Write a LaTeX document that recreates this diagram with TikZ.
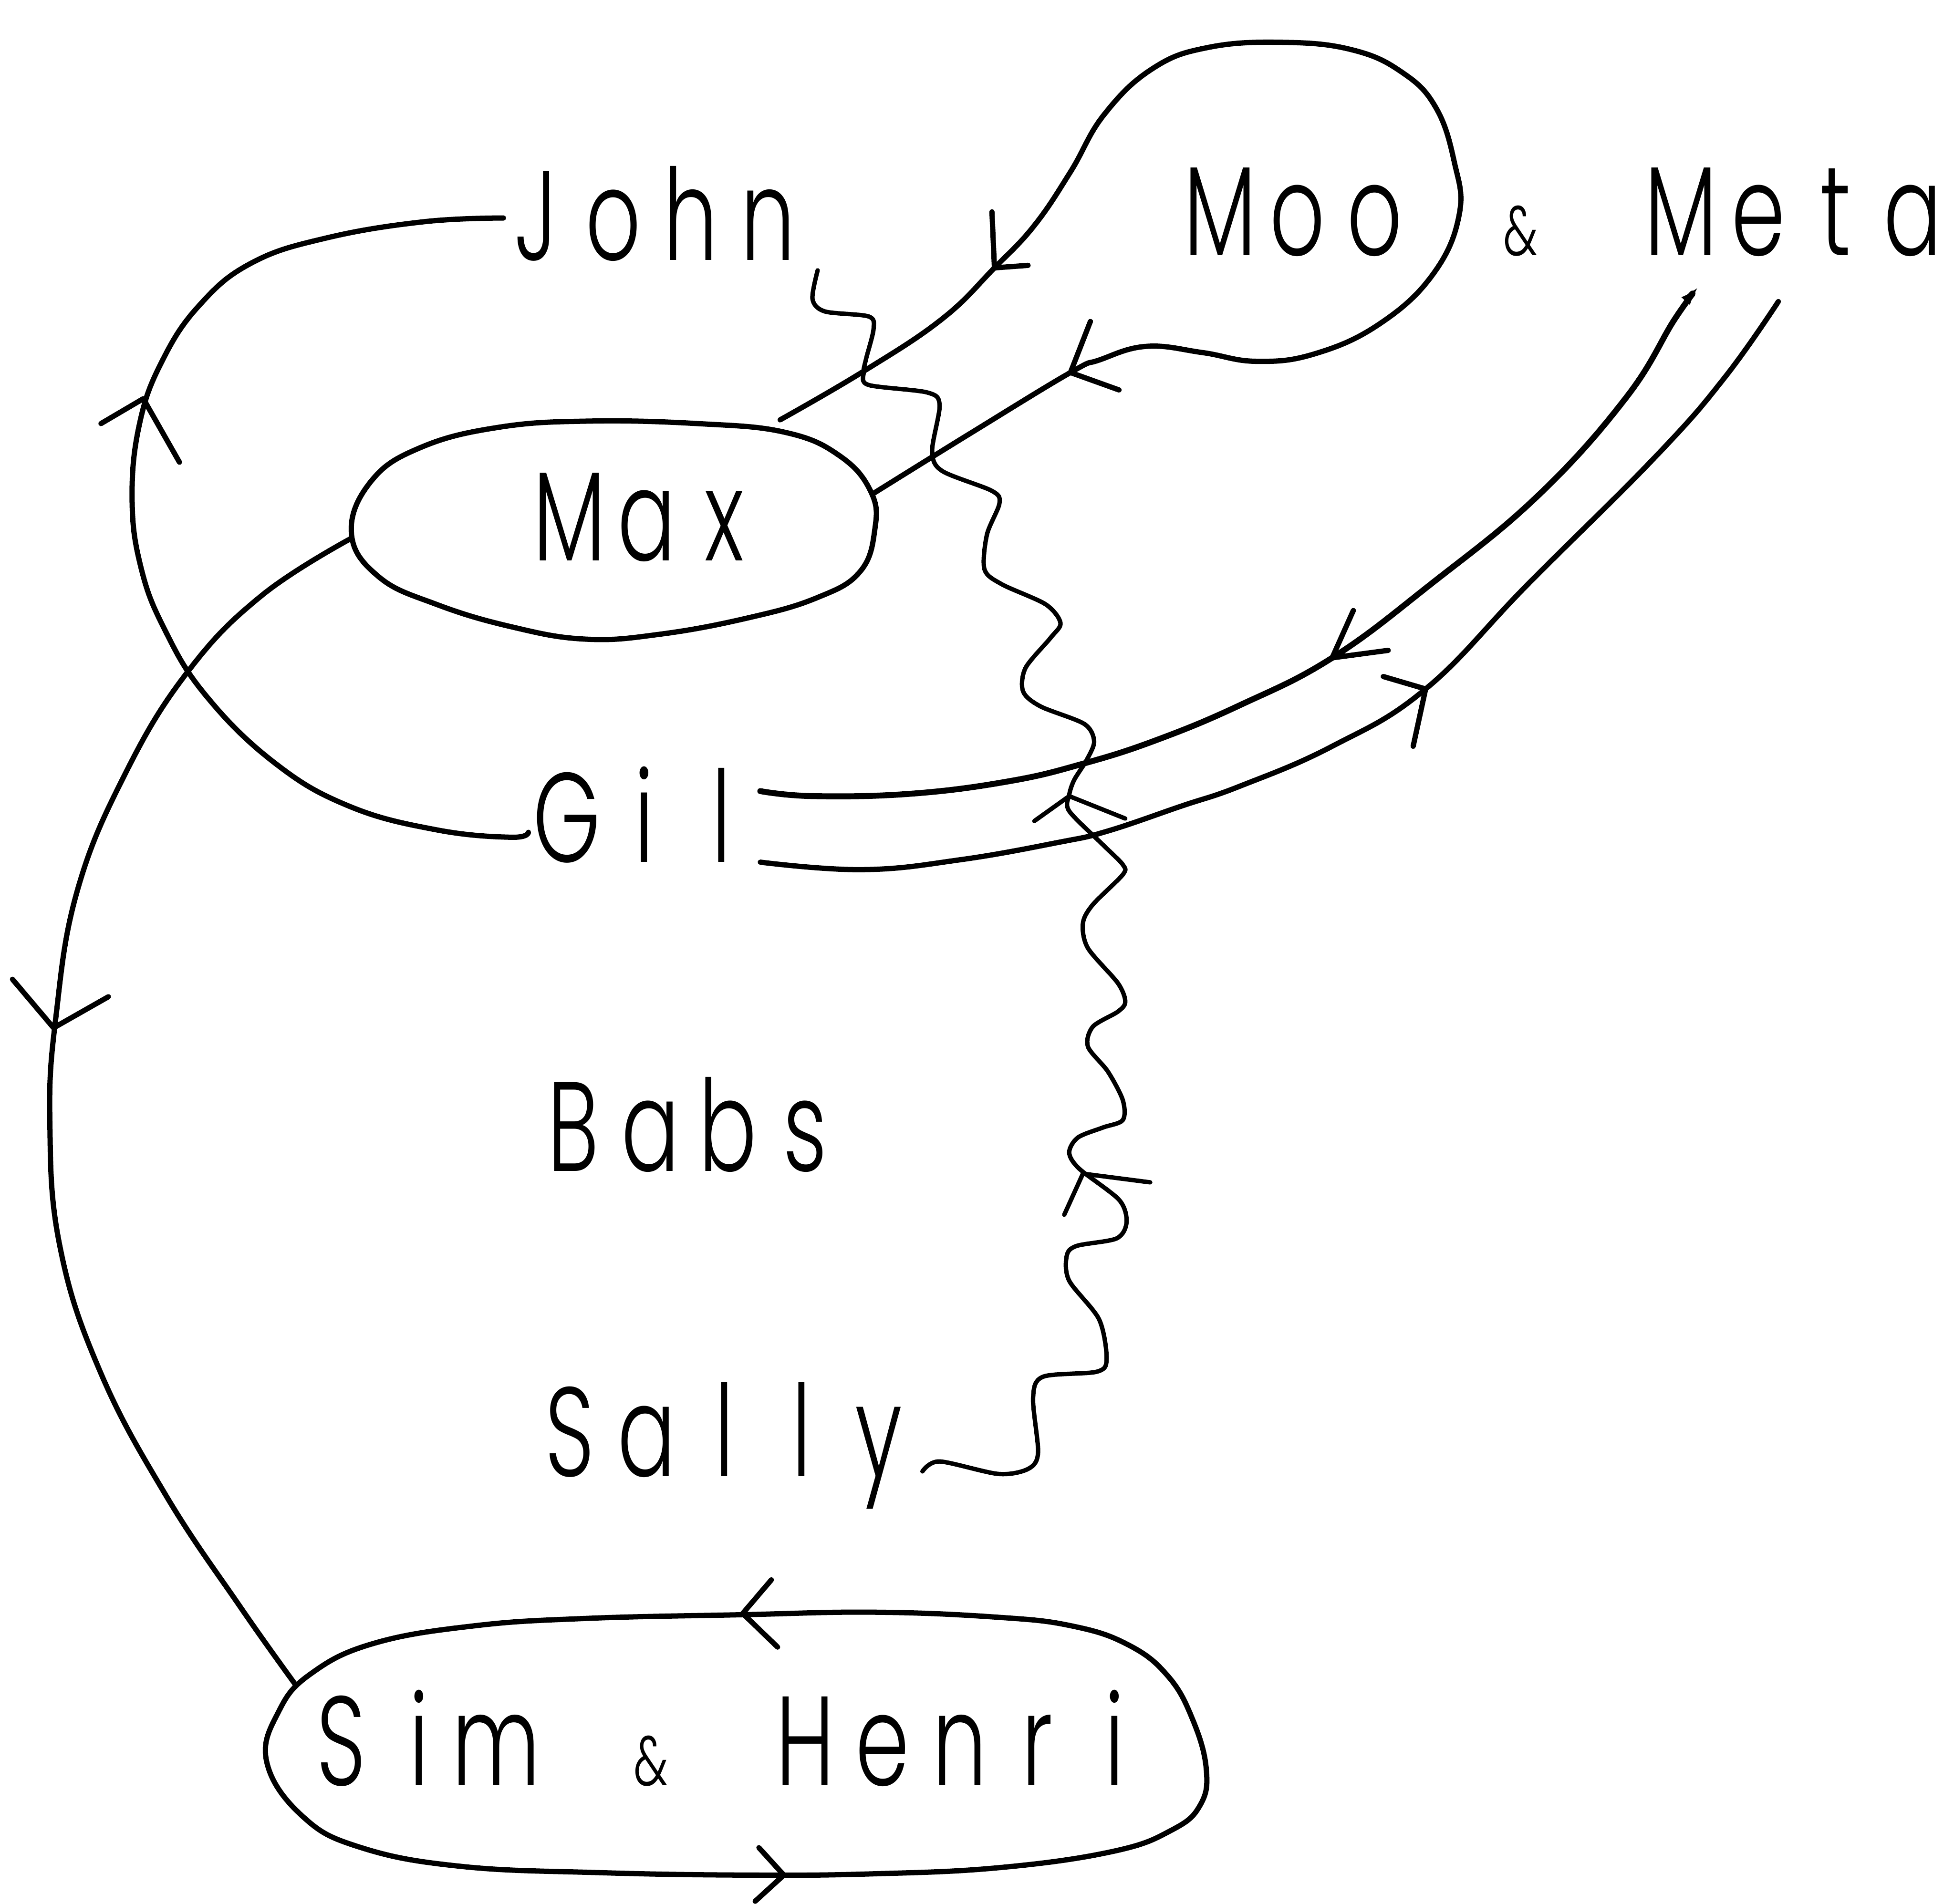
\documentclass[tikz,border=0pt]{standalone}
\usepackage{fontspec}
\setmainfont{Poppins Light}[FakeStretch=0.68]
\usetikzlibrary{arrows.meta}

% fixed-pitch lettering: every character sits in a cell of equal width
\newlength\cellw
\setlength\cellw{0.62cm}
\def\monoloop#1{\ifx#1\relax\else\makebox[\cellw][c]{#1}\expandafter\monoloop\fi}
\newcommand\mono[1]{\monoloop#1\relax}
\newcommand\blankcell{\null}
\newcommand\smallamp{{\fontsize{16pt}{16pt}\selectfont\&}}

\begin{document}
\begin{tikzpicture}[x=0.01cm, y=-0.01cm, line cap=round, line join=round,
  label/.style={inner sep=0pt, outer sep=0pt, anchor=base west,
                font=\fontsize{29pt}{30pt}\selectfont},
  ink/.style={draw=black, line width=1.2pt},
  wave/.style={draw=black, line width=1.0pt},
  curve/.style={smooth, tension=0.7}]
\useasboundingbox (0,0) rectangle (1568,1528);

% ---- names ----
\node[label] (john)  at (399,209)  {\mono{John}};
\node[label] (moo)   at (948,205)  {\mono{Moo}};
\node[label] (amp)   at (1189,205) {\mono{\smallamp}};
\node[label] (meta)  at (1318,205) {\mono{Meta}};
\node[label] (max)   at (426,450)  {\mono{Max}};
\node[label] (gil)   at (424,692)  {\mono{Gil}};
\node[label] (babs)  at (429,940)  {\mono{Babs}};
\node[label] (sally) at (426,1185) {\mono{Sally}};
\node[label] (simhenri) at (243,1433) {\mono{Sim\blankcell\smallamp\blankcell Henri}};

% ---- outlines round Max and round Sim & Henri ----
\draw[ink] plot[smooth cycle, tension=0.7] coordinates {
  (282,428) (298,386) (338,359) (400,343) (472,338) (560,340) (630,347)
  (674,366) (699,395) (702,425) (690,459) (655,480) (600,496) (530,509)
  (470,513) (410,503) (350,485) (304,463)};
\draw[ink] plot[smooth cycle, tension=0.7] coordinates {
  (214,1414) (224,1373) (250,1343) (300,1319) (380,1305) (470,1299)
  (596,1296) (702,1294) (800,1298) (860,1305) (905,1320) (937,1345)
  (957,1380) (968,1420) (963,1449) (940,1469) (893,1486) (802,1499)
  (700,1504) (600,1505) (480,1503) (370,1498) (290,1483) (243,1458)};

% connector ends on the outlines
\coordinate (maxNE) at (626,337);
\coordinate (maxE)  at (701,396);
\coordinate (maxW)  at (282,432);
\coordinate (simNW) at (237,1352);

% ---- John -> Gil loop ----
\draw[ink] plot[curve] coordinates {
  ([xshift=0.05cm,yshift=0.34cm]john.base west) (340,178) (262,191) (202,211)
  (160,245) (130,290) (112,340) (106,400) (113,455) (132,505) (165,558)
  (220,612) (280,647) (350,666) (410,672) ([yshift=0.24cm]gil.base west)};
\draw[ink] (81,340) -- (115,320) -- (144,371);

% ---- Max -> Sim & Henri ----
\draw[ink] plot[curve] coordinates {
  (maxW) (210,478) (150,540) (100,622) (62,715) (45,815) (40,900)
  (48,1000) (80,1100) (133,1200) (193,1290) (simNW)};
\draw[ink] (10,786) -- (43,825) -- (87,800);

% ---- Sim & Henri round trip arrows ----
\draw[ink] (619,1268) -- (596,1295) -- (624,1322);
\draw[ink] (609,1483) -- (629,1505) -- (606,1526);

% ---- the Moo balloon, out of Max and back ----
\draw[ink] plot[curve] coordinates {
  (maxNE) (693,298) (756,256) (798,215) (830,181) (859,138) (886,92)
  (925,55) (970,38) (1030,34) (1085,40) (1125,58) (1152,86) (1167,130)
  (1171,172) (1150,220) (1107,260) (1055,284) (1008,290) (965,283)
  (920,278) (882,289) (859,299) (780,347) (maxE)};
\draw[ink] (796,170) -- (798,215) -- (825,213);
\draw[ink] (875,258) -- (859,299) -- (898,313);

% ---- Gil <-> Meta ----
\draw[ink, line width=1.35pt, -{Latex[length=0.17cm, width=0.09cm]}] plot[curve] coordinates {
  ([yshift=0.57cm]gil.base east) (653,639) (732,637) (810,627) (869,613)
  (928,594) (995,566) (1069,528) (1148,469) (1234,398) (1305,319)
  (1344,256) ([xshift=0.46cm,yshift=-0.24cm]meta.base west)};
\draw[ink] (1086,490) -- (1069,528) -- (1114,522);
\draw[ink] plot[curve] coordinates {
  (gil.base east) (692,698) (771,690) (850,676) (889,667) (948,647)
  (995,631) (1069,599) (1144,553) (1226,469) (1329,366) (1384,303)
  ([xshift=1.09cm,yshift=-0.37cm]meta.base west)};
\draw[ink] (1110,543) -- (1144,553) -- (1134,599);

% ---- wavy line from Sally up to John ----
\draw[wave] plot[smooth, tension=0.5] coordinates {
  ([xshift=0.09cm,yshift=-0.08cm]john.base east) (652,240) (662,250) (697,254)
  (701,264) (695,288) (693,299) (697,309) (744,315) (754,325) (748,362)
  (756,378) (796,394) (802,404) (792,429) (790,457) (804,469) (839,485)
  (851,500) (843,512) (823,536) (821,555) (835,567) (870,581) (878,595)
  (872,610) (862,626) (858,638) (858,651) (885,678) (901,694) (901,702)
  (877,726) (869,741) (873,761) (897,789) (903,804) (897,812) (877,824)
  (873,840) (889,860) (901,883) (901,899) (885,905) (865,913) (858,925)
  (866,938) (898,963) (904,981) (896,994) (864,1000) (856,1008) (858,1028)
  (882,1059) (888,1091) (880,1101) (837,1105) (829,1122) (833,1166)
  (825,1179) (801,1183) (754,1173) ([xshift=0.04cm,yshift=0.04cm]sally.base east)};
\draw[wave] (830,659) -- (858,639) -- (903,657);
\draw[wave] (854,975) -- (869,942) -- (923,949);
\end{tikzpicture}
\end{document}
